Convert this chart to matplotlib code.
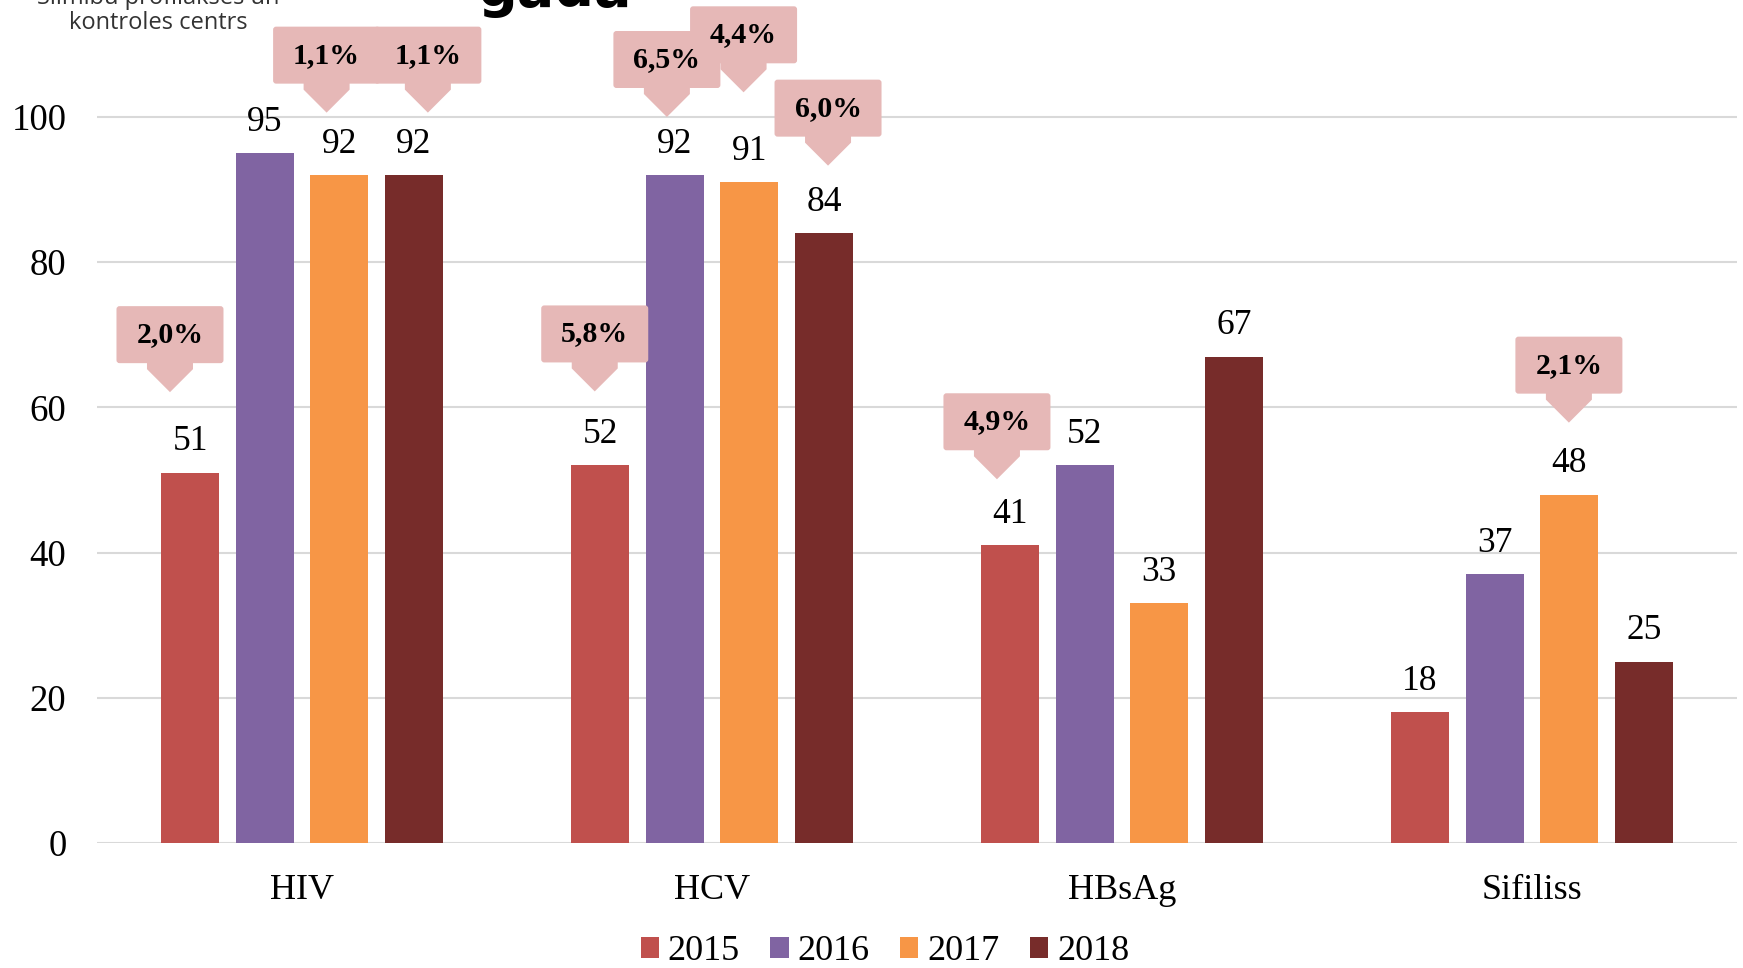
import numpy as np
import matplotlib
matplotlib.use("Agg")
import matplotlib.pyplot as plt
import matplotlib.transforms as mtransforms
from matplotlib.patches import Polygon, FancyBboxPatch

categories = ["HIV", "HCV", "HBsAg", "Sifiliss"]
years = ["2015", "2016", "2017", "2018"]
v2015 = [51, 52, 41, 18]
v2016 = [95, 92, 52, 37]
v2017 = [92, 91, 33, 48]
v2018 = [92, 84, 67, 25]
colors = ["#C0504D", "#8064A2", "#F79646", "#772C2A"]

# callouts: text, tip x (data), tip y (data)
callout_txt = ["2,0%", "1,1%", "1,1%", "5,8%", "6,5%", "4,4%", "6,0%", "4,9%", "2,1%"]
callout_x = [-0.322, 0.060, 0.307, 0.714, 0.890, 1.077, 1.283, 1.695, 3.090]
callout_y = [62.1, 100.6, 100.6, 62.2, 100.0, 103.4, 93.3, 50.1, 57.9]

plt.rcParams['font.family'] = ['Liberation Serif', 'DejaVu Serif']

fig = plt.figure(figsize=(17.43, 9.68), dpi=100)
ax = fig.add_axes([97/1743, 1-843/968, (1737-97)/1743, 843/968])

series = [v2015, v2016, v2017, v2018]
x = np.arange(len(categories))
step = 0.182
width = 0.141
for i, vals in enumerate(series):
    pos = x + (i - 1.5)*step
    ax.bar(pos, vals, width=width, color=colors[i], label=years[i], zorder=2)
    for px_, v in zip(pos, vals):
        ax.annotate(str(v), (px_, v), xytext=(0, 31), textcoords='offset pixels',
                    ha='center', va='center', fontsize=25.5, zorder=3)

ax.set_xlim(-0.5, 3.5)
ax.set_ylim(0, 843/7.26)
ax.set_yticks([0, 20, 40, 60, 80, 100])
ax.set_xticks(x)
ax.set_xticklabels(categories)
ax.tick_params(axis='y', length=0, pad=22, labelsize=26.5)
ax.tick_params(axis='x', length=0, pad=22, labelsize=26)
ax.grid(axis='y', color='#D9D9D9', linewidth=1.5, zorder=0)
ax.set_axisbelow(True)
for s in ax.spines.values():
    s.set_visible(False)
ax.patch.set_alpha(0)

# pink callouts with down arrows (sizes in pixels)
bw, bh, gap, aw, sh = 107, 57, 29, 46, 6
for t, cx, cy in zip(callout_txt, callout_x, callout_y):
    tr = fig.dpi_scale_trans + mtransforms.ScaledTranslation(cx, cy, ax.transData)
    d = lambda p: p/100.0
    box = FancyBboxPatch((d(-bw/2), d(gap)), d(bw), d(bh),
                         boxstyle="round,pad=0,rounding_size=0.03",
                         transform=tr, facecolor='#E6B8B7', edgecolor='none',
                         zorder=5, clip_on=False)
    ax.add_patch(box)
    arrow = Polygon([(d(-aw/2), d(gap+1)), (d(aw/2), d(gap+1)), (d(aw/2), d(gap-sh)),
                     (0, 0), (d(-aw/2), d(gap-sh))], closed=True, transform=tr,
                    facecolor='#E6B8B7', edgecolor='none', zorder=5, clip_on=False)
    ax.add_patch(arrow)
    ax.text(0, d(gap+bh/2), t, transform=tr, ha='center', va='center',
            fontsize=21.5, fontweight='bold', zorder=6)

fig.legend(loc='center', bbox_to_anchor=(885/1743, 1-952/968), ncol=4, frameon=False,
           fontsize=26, handlelength=0.5, handleheight=0.5, handletextpad=0.25,
           columnspacing=0.85)

# cut-off header pieces from the original slide
hdr_font = ['Open Sans', 'DejaVu Sans']
fig.text(158/1743, 1+2/968, "Slimību profilakses un", ha='center', va='center',
         fontsize=17, color='#333333', family=hdr_font)
fig.text(158/1743, 1-23/968, "kontroles centrs", ha='center', va='center',
         fontsize=17, color='#333333', family=hdr_font)
fig.text(477/1743, 1-6/968, "gadā", ha='left', va='baseline', fontsize=40,
         fontweight='bold', family=['DejaVu Sans'])

fig.savefig("out.png", dpi=100)
